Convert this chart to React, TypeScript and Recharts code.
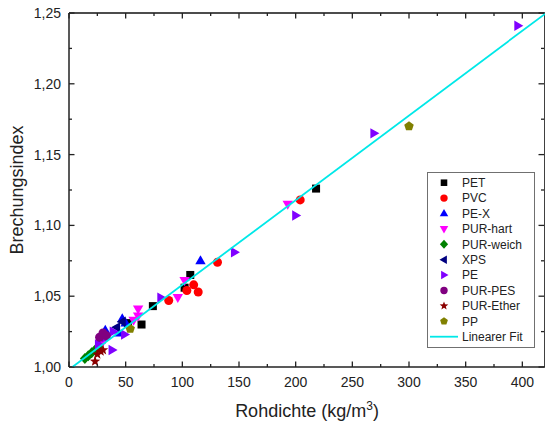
import React from 'react';
import { ScatterChart, Scatter, XAxis, YAxis, Legend, Label, ReferenceLine } from 'recharts';

const FONT = '"Liberation Sans", Arial, Helvetica, sans-serif';

const PLOT_TOP = 13;
const PLOT_RIGHT = 545;

const xTicks = [0, 25, 50, 75, 100, 125, 150, 175, 200, 225, 250, 275, 300, 325, 350, 375, 400];
const yTicks = [1.0, 1.025, 1.05, 1.075, 1.1, 1.125, 1.15, 1.175, 1.2, 1.225, 1.25];

const petData = [
  { x: 52, y: 1.031 }, { x: 64, y: 1.030 }, { x: 74, y: 1.043 },
  { x: 102, y: 1.056 }, { x: 107, y: 1.065 }, { x: 218, y: 1.126 },
];
const pvcData = [
  { x: 88, y: 1.047 }, { x: 104, y: 1.054 }, { x: 110, y: 1.058 },
  { x: 114, y: 1.053 }, { x: 131, y: 1.074 }, { x: 204, y: 1.118 },
];
const pexData = [
  { x: 28, y: 1.019 }, { x: 32, y: 1.026 }, { x: 44, y: 1.024 },
  { x: 47, y: 1.034 }, { x: 50, y: 1.031 }, { x: 116, y: 1.075 },
];
const purHartData = [
  { x: 30, y: 1.018 }, { x: 57, y: 1.033 }, { x: 61, y: 1.036 }, { x: 61, y: 1.041 },
  { x: 96, y: 1.049 }, { x: 102, y: 1.061 }, { x: 193, y: 1.115 },
];
const purWeichData = [
  { x: 14, y: 1.006 }, { x: 17, y: 1.008 }, { x: 20, y: 1.010 },
  { x: 23, y: 1.012 }, { x: 26, y: 1.014 },
];
const xpsData = [
  { x: 30, y: 1.022 }, { x: 42, y: 1.028 }, { x: 47, y: 1.032 },
];
const peData = [
  { x: 26, y: 1.016 }, { x: 32, y: 1.021 }, { x: 39, y: 1.025 }, { x: 38, y: 1.012 },
  { x: 49, y: 1.023 }, { x: 81, y: 1.049 }, { x: 146, y: 1.081 }, { x: 200, y: 1.107 },
  { x: 269, y: 1.165 }, { x: 396, y: 1.241 },
];
const purPesData = [
  { x: 27, y: 1.021 }, { x: 30, y: 1.024 }, { x: 33, y: 1.022 },
];
const purEtherData = [
  { x: 23, y: 1.004 }, { x: 25, y: 1.009 }, { x: 28, y: 1.011 }, { x: 30, y: 1.012 },
];
const ppData = [
  { x: 54, y: 1.027 }, { x: 300, y: 1.170 },
];
const fitData = [
  { x: 3, y: 1.0 }, { x: 420, y: 1.2494 },
];

type Kind = 'square' | 'circle' | 'up' | 'down' | 'diamond' | 'left' | 'right' | 'star' | 'pentagon';

const series: { name: string; data: { x: number; y: number }[]; color: string; kind: Kind }[] = [
  { name: 'PET', data: petData, color: '#000000', kind: 'square' },
  { name: 'PVC', data: pvcData, color: '#ff0000', kind: 'circle' },
  { name: 'PE-X', data: pexData, color: '#0000ff', kind: 'up' },
  { name: 'PUR-hart', data: purHartData, color: '#ff00ff', kind: 'down' },
  { name: 'PUR-weich', data: purWeichData, color: '#008000', kind: 'diamond' },
  { name: 'XPS', data: xpsData, color: '#000080', kind: 'left' },
  { name: 'PE', data: peData, color: '#8000ff', kind: 'right' },
  { name: 'PUR-PES', data: purPesData, color: '#800080', kind: 'circle' },
  { name: 'PUR-Ether', data: purEtherData, color: '#8b0000', kind: 'star' },
  { name: 'PP', data: ppData, color: '#808000', kind: 'pentagon' },
];
const fitColor = '#00e8e8';

function pts(arr: number[][], cx: number, cy: number, s: number) {
  return arr.map(([a, b]) => `${cx + a * s},${cy + b * s}`).join(' ');
}

function Marker({ cx, cy, kind, color, s = 1 }: { cx: number; cy: number; kind: Kind; color: string; s?: number }) {
  if (cx == null || cy == null) return <g />;
  switch (kind) {
    case 'square':
      return <rect x={cx - 4 * s} y={cy - 4 * s} width={8 * s} height={8 * s} fill={color} />;
    case 'circle':
      return <circle cx={cx} cy={cy} r={4.5 * s} fill={color} />;
    case 'up':
      return <polygon points={pts([[0, -5.5], [5.2, 3.5], [-5.2, 3.5]], cx, cy, s)} fill={color} />;
    case 'down':
      return <polygon points={pts([[0, 5.5], [5.2, -3.5], [-5.2, -3.5]], cx, cy, s)} fill={color} />;
    case 'diamond':
      return <polygon points={pts([[0, -5.5], [5, 0], [0, 5.5], [-5, 0]], cx, cy, s)} fill={color} />;
    case 'left':
      return <polygon points={pts([[-5.5, 0], [3.5, -5.2], [3.5, 5.2]], cx, cy, s)} fill={color} />;
    case 'right':
      return <polygon points={pts([[5.5, 0], [-3.5, -5.2], [-3.5, 5.2]], cx, cy, s)} fill={color} />;
    case 'star': {
      const p: number[][] = [];
      for (let i = 0; i < 10; i++) {
        const r = i % 2 === 0 ? 5.5 : 2.3;
        const a = -Math.PI / 2 + (i * Math.PI) / 5;
        p.push([r * Math.cos(a), r * Math.sin(a)]);
      }
      return <polygon points={pts(p, cx, cy, s)} fill={color} />;
    }
    case 'pentagon': {
      const p: number[][] = [];
      for (let i = 0; i < 5; i++) {
        const a = -Math.PI / 2 + (i * 2 * Math.PI) / 5;
        p.push([5 * Math.cos(a), 5 * Math.sin(a)]);
      }
      return <polygon points={pts(p, cx, cy, s)} fill={color} />;
    }
  }
  return <g />;
}

const isMajorX = (v: number) => v % 50 === 0;
const isMajorY = (v: number) => Math.abs(v * 20 - Math.round(v * 20)) < 1e-6;
const fmtY = (v: number) => v.toFixed(2).replace('.', ',');

const stroke = '#222';

function BottomTick(props: any) {
  const { x, y, payload } = props;
  const v = payload.value as number;
  const major = isMajorX(v);
  const len = major ? 5.5 : 3;
  return (
    <g>
      <line x1={x} y1={y} x2={x} y2={y - len} stroke={stroke} strokeWidth={1.3} />
      <line x1={x} y1={PLOT_TOP} x2={x} y2={PLOT_TOP + len} stroke={stroke} strokeWidth={1.3} />
      {major && (
        <text x={x} y={y + 19.5} textAnchor="middle" fontSize={14} fontFamily={FONT} fill="#222">
          {String(v)}
        </text>
      )}
    </g>
  );
}

function LeftTick(props: any) {
  const { x, y, payload } = props;
  const v = payload.value as number;
  const major = isMajorY(v);
  const len = major ? 5.5 : 3;
  return (
    <g>
      <line x1={x} y1={y} x2={x + len} y2={y} stroke={stroke} strokeWidth={1.3} />
      <line x1={PLOT_RIGHT - 1} y1={y} x2={PLOT_RIGHT - 1 - len} y2={y} stroke={stroke} strokeWidth={1.3} />
      {major && (
        <text x={x - 8} y={y + 5} textAnchor="end" fontSize={14} fontFamily={FONT} fill="#222">
          {fmtY(v)}
        </text>
      )}
    </g>
  );
}

function LegendBox() {
  const w = 108;
  const h = 176;
  const rows = [...series.map((s) => ({ name: s.name, s })), { name: 'Linearer Fit', s: null as any }];
  return (
    <svg width={w} height={h} style={{ display: 'block' }}>
      <rect x={0.5} y={0.5} width={w - 1} height={h - 1} fill="#fff" stroke="#707070" strokeWidth={1} />
      {rows.map((r, i) => {
        const cy = 10.7 + i * 15.4;
        return (
          <g key={r.name}>
            {r.s ? (
              <Marker cx={17} cy={cy} kind={r.s.kind} color={r.s.color} s={0.82} />
            ) : (
              <line x1={3} y1={cy} x2={31} y2={cy} stroke={fitColor} strokeWidth={1.8} />
            )}
            <text x={35} y={cy + 4.3} fontSize={12} fontFamily={FONT} fill="#222">
              {r.name}
            </text>
          </g>
        );
      })}
    </svg>
  );
}

export default function App() {
  return (
    <div style={{ position: 'absolute', left: 0, top: 0, background: '#fff' }}>
      <ScatterChart width={545} height={425} margin={{ top: PLOT_TOP, right: 0, bottom: 0, left: 0 }}>
        <XAxis
          dataKey="x"
          type="number"
          domain={[0, 420]}
          allowDataOverflow
          ticks={xTicks}
          interval={0}
          height={58}
          tickLine={false}
          tickSize={0}
          tickMargin={0}
          axisLine={{ stroke, strokeWidth: 1.5 }}
          tick={BottomTick}
        >
          <Label
            content={(p: any) => {
              const vb = p.viewBox || {};
              const cx = (vb.x ?? 69) + (vb.width ?? 476) / 2;
              return (
                <text x={cx} y={416.5} textAnchor="middle" fontSize={18} fontFamily={FONT} fill="#222">
                  Rohdichte (kg/m
                  <tspan fontSize={12} dy={-7}>3</tspan>
                  <tspan dy={7}>)</tspan>
                </text>
              );
            }}
          />
        </XAxis>
        <YAxis
          dataKey="y"
          type="number"
          domain={[1.0, 1.25]}
          allowDataOverflow
          ticks={yTicks}
          interval={0}
          width={69}
          tickLine={false}
          tickSize={0}
          tickMargin={0}
          axisLine={{ stroke, strokeWidth: 1.5 }}
          tick={LeftTick}
        >
          <Label
            content={(p: any) => {
              const vb = p.viewBox || {};
              const cy = (vb.y ?? 13) + (vb.height ?? 354) / 2;
              return (
                <text
                  transform={`translate(22.5, ${cy}) rotate(-90)`}
                  textAnchor="middle"
                  fontSize={18}
                  fontFamily={FONT}
                  fill="#222"
                >
                  Brechungsindex
                </text>
              );
            }}
          />
        </YAxis>
        <ReferenceLine y={1.25} stroke="#111" strokeWidth={1.6} ifOverflow="visible" />
        <ReferenceLine x={420} stroke="#111" strokeWidth={1.6} ifOverflow="visible" />
        {series.map((s) => (
          <Scatter
            key={s.name}
            name={s.name}
            data={s.data}
            fill={s.color}
            isAnimationActive={false}
            shape={(p: any) => <Marker cx={p.cx} cy={p.cy} kind={s.kind} color={s.color} />}
          />
        ))}
        <Scatter
          name="Linearer Fit"
          data={fitData}
          isAnimationActive={false}
          line={{ stroke: fitColor, strokeWidth: 1.8 }}
          shape={() => <g />}
        />
        <Legend
          layout="vertical"
          align="center"
          verticalAlign="middle"
          wrapperStyle={{ left: 427, top: 172, width: 108, height: 176, position: 'absolute' }}
          content={() => <LegendBox />}
        />
      </ScatterChart>
    </div>
  );
}
